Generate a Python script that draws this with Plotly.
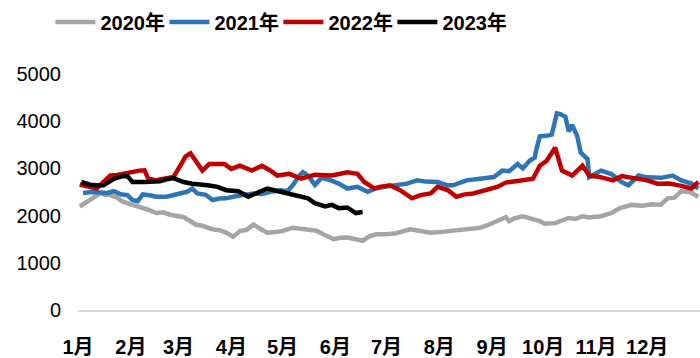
import plotly.graph_objects as go

# Day of year (0 = 1 Jan) and values for each year
days_2020 = [1, 6, 11, 13, 16, 19, 23, 26, 31, 35, 40, 46, 50, 54, 58, 62, 66, 69, 73, 79,
             83, 87, 91, 95, 99, 103, 107, 111, 116, 120, 126, 130, 136, 140, 144, 150, 154, 158, 163, 167,
             171, 175, 180, 186, 195, 201, 207, 212, 218, 224, 228, 236, 240, 244, 248, 251, 253, 256, 261, 265,
             271, 274, 280, 288, 292, 296, 300, 307, 313, 318, 325, 331, 337, 342, 346, 350, 354, 359, 364]
vals_2020 = [2193, 2300, 2420, 2469, 2440, 2434, 2380, 2300, 2240, 2200, 2140, 2054, 2070, 2019, 2000, 1965, 1880, 1811, 1784, 1708,
             1690, 1639, 1550, 1674, 1700, 1811, 1720, 1639, 1650, 1674, 1743, 1720, 1708, 1680, 1604, 1500, 1530, 1535, 1500, 1467,
             1560, 1604, 1604, 1620, 1708, 1680, 1639, 1650, 1674, 1700, 1708, 1743, 1790, 1847, 1900, 1965, 1882, 1940, 1986, 1950,
             1882, 1826, 1840, 1950, 1930, 1986, 1960, 1986, 2054, 2158, 2227, 2210, 2241, 2230, 2366, 2380, 2517, 2500, 2400]

days_2021 = [3, 8, 13, 17, 21, 25, 29, 32, 35, 38, 42, 46, 52, 56, 60, 64, 67, 70, 75, 79,
             83, 87, 91, 95, 99, 103, 108, 113, 119, 123, 126, 130, 132, 134, 136, 139, 143, 148, 153, 158,
             164, 170, 175, 180, 186, 193, 199, 204, 211, 217, 220, 224, 228, 236, 244, 249, 253, 258, 261, 265,
             268, 269, 271, 275, 278, 281, 283, 286, 288, 290, 293, 295, 299, 300, 304, 307, 313, 319, 323, 329,
             334, 342, 349, 354, 360, 364]
vals_2021 = [2480, 2500, 2490, 2480, 2517, 2450, 2434, 2330, 2303, 2448, 2430, 2400, 2400, 2434, 2470, 2504, 2573, 2469, 2440, 2330,
             2360, 2366, 2400, 2434, 2450, 2469, 2460, 2504, 2538, 2520, 2642, 2849, 2919, 2870, 2800, 2650, 2800, 2750, 2677, 2573,
             2608, 2504, 2580, 2610, 2640, 2677, 2746, 2720, 2712, 2642, 2642, 2700, 2746, 2781, 2816, 2953, 2940, 3092, 3000, 3160,
             3230, 3403, 3679, 3690, 3714, 4164, 4150, 4094, 3783, 3922, 3679, 3335, 3196, 2816, 2900, 2953, 2880, 2712, 2642, 2849,
             2810, 2800, 2849, 2746, 2677, 2573]

days_2022 = [1, 7, 11, 15, 19, 23, 26, 31, 36, 39, 41, 45, 51, 56, 60, 63, 66, 69, 73, 77,
             82, 86, 90, 95, 102, 108, 113, 117, 124, 131, 139, 149, 158, 164, 168, 174, 177, 183, 189, 196,
             201, 207, 211, 217, 222, 227, 232, 236, 242, 246, 251, 255, 259, 267, 271, 275, 280, 284, 290, 296,
             300, 306, 314, 319, 327, 334, 340, 347, 354, 360, 364]
vals_2022 = [2660, 2600, 2573, 2712, 2849, 2860, 2884, 2900, 2953, 2960, 2800, 2746, 2790, 2816, 3056, 3250, 3320, 3160, 2953, 3092,
             3092, 3092, 2988, 3056, 2953, 3056, 2950, 2849, 2884, 2781, 2863, 2849, 2919, 2884, 2712, 2573, 2608, 2642, 2538, 2366,
             2434, 2469, 2608, 2540, 2400, 2450, 2469, 2504, 2560, 2608, 2700, 2712, 2740, 2781, 3056, 3160, 3438, 2953, 2849, 3056,
             2849, 2820, 2746, 2836, 2800, 2746, 2677, 2680, 2629, 2573, 2712]

days_2023 = [2, 7, 11, 15, 21, 26, 29, 32, 39, 48, 52, 56, 62, 67, 76, 82, 87, 94, 100, 106,
             111, 117, 123, 130, 135, 139, 145, 149, 153, 158, 163, 167]
vals_2023 = [2712, 2656, 2642, 2642, 2781, 2836, 2836, 2712, 2712, 2725, 2767, 2795, 2712, 2677, 2642, 2608, 2538, 2517, 2400, 2504,
             2573, 2520, 2469, 2400, 2366, 2262, 2193, 2227, 2158, 2172, 2054, 2075]

# Month-start ticks
month_starts = [0, 31, 59, 90, 120, 151, 181, 212, 243, 273, 304, 334]
month_labels = ["1月", "2月", "3月", "4月", "5月", "6月", "7月", "8月", "9月", "10月", "11月", "12月"]

series = [
    ("2020年", days_2020, vals_2020, "#A5A5A5"),
    ("2021年", days_2021, vals_2021, "#2E75B6"),
    ("2022年", days_2022, vals_2022, "#C00000"),
    ("2023年", days_2023, vals_2023, "#000000"),
]

label_font = "Liberation Sans, Arial, Noto Sans CJK SC, sans-serif"

fig = go.Figure()
for name, d, v, c in series:
    fig.add_trace(go.Scatter(
        x=d, y=v, name=name, mode="lines",
        line=dict(color=c, width=4.5, shape="linear"),
    ))

fig.update_layout(
    width=700, height=358,
    margin=dict(l=78, r=0, t=74, b=44),
    paper_bgcolor="white", plot_bgcolor="white",
    showlegend=True,
    legend=dict(
        orientation="h", xref="container", yref="container",
        x=0.072, y=1 - 22 / 358, xanchor="left", yanchor="middle",
        font=dict(family=label_font, size=20, color="black", weight="bold"),
        itemwidth=40, entrywidth=59, entrywidthmode="pixels",
        bgcolor="rgba(0,0,0,0)", borderwidth=0,
    ),
    xaxis=dict(
        range=[0, 365], tickmode="array", tickvals=month_starts, ticktext=month_labels,
        showgrid=False, zeroline=False, showline=True, linecolor="#D9D9D9", linewidth=2,
        ticks="", ticklabelstandoff=18,
        tickfont=dict(family=label_font, size=20, color="black", weight="bold"),
    ),
    yaxis=dict(
        range=[0, 5000], dtick=1000, tick0=0,
        showgrid=False, zeroline=False, showline=False, ticks="",
        ticklabelstandoff=16,
        tickfont=dict(family="Liberation Sans, Arial, sans-serif", size=20, color="black"),
    ),
)

fig.write_html("out.html")
